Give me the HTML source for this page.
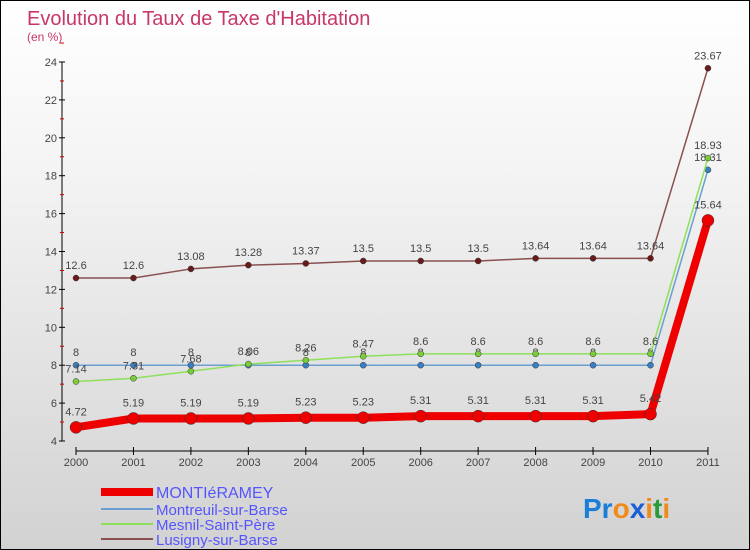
<!DOCTYPE html>
<html><head><meta charset="utf-8"><style>
body{margin:0;}
#wrap{position:relative;width:748px;height:548px;border:1px solid #000;background:linear-gradient(#fff 0%,#f4f4f4 30%,#d2d2d2 100%);font-family:"Liberation Sans",sans-serif;overflow:hidden}
svg text{font-family:"Liberation Sans",sans-serif}
</style></head><body>
<div id="wrap">
<svg id="chart" width="748" height="548">
<text x="26" y="24" font-size="20" fill="#c8366a">Evolution du Taux de Taxe d'Habitation</text>
<text x="26" y="40" font-size="12" fill="#c8366a">(en %)</text>
<g id="axes"></g><g id="series"></g>
<g>
<rect x="100" y="487" width="52" height="8" fill="#e00"/>
<text x="155" y="497" font-size="16" fill="#55f">MONTIéRAMEY</text>
<line x1="100" y1="508" x2="152" y2="508" stroke="#6a9fd0" stroke-width="2"/>
<text x="155" y="514" font-size="15" fill="#55f">Montreuil-sur-Barse</text>
<line x1="100" y1="523" x2="152" y2="523" stroke="#8ee05a" stroke-width="2"/>
<text x="155" y="529" font-size="15" fill="#55f">Mesnil-Saint-Père</text>
<line x1="100" y1="538" x2="152" y2="538" stroke="#8a5050" stroke-width="2"/>
<text x="155" y="544" font-size="15" fill="#55f">Lusigny-sur-Barse</text>
</g>
<text x="582" y="517" font-size="28" font-weight="bold"><tspan fill="#1a7fd8">Pr</tspan><tspan fill="#f08a1a">o</tspan><tspan fill="#1a5fd8">x</tspan><tspan fill="#f08a1a">i</tspan><tspan fill="#2a9a3a">t</tspan><tspan fill="#f08a1a">i</tspan></text>
</svg>
</div>
<script>
const years=["2000","2001","2002","2003","2004","2005","2006","2007","2008","2009","2010","2011"];
const yTicks=[4,6,8,10,12,14,16,18,20,22,24];
const montieramey=[4.72,5.19,5.19,5.19,5.23,5.23,5.31,5.31,5.31,5.31,5.42,15.64];
const montreuil=[8,8,8,8,8,8,8,8,8,8,8,18.31];
const mesnil=[7.14,7.31,7.68,8.06,8.26,8.47,8.6,8.6,8.6,8.6,8.6,18.93];
const lusigny=[12.6,12.6,13.08,13.28,13.37,13.5,13.5,13.5,13.64,13.64,13.64,23.67];
const NS="http://www.w3.org/2000/svg";
const xS=i=>75+i*57.45;
const yS=v=>440-(v-4)*18.95;
function mk(t,a,p){const e=document.createElementNS(NS,t);for(const k in a)e.setAttribute(k,a[k]);p.appendChild(e);return e;}
const ax=document.getElementById('axes');
const yAxis=mk('line',{x1:61,y1:61,x2:61,y2:440,stroke:'#000','stroke-width':1},ax);


const xAxis=mk('line',{x1:75,y1:450,x2:707,y2:450,stroke:'#000','stroke-width':1},ax);


yTicks.forEach(v=>{
  mk('line',{x1:58,y1:yS(v),x2:64,y2:yS(v),stroke:'#000'},ax);
  mk('line',{x1:59,y1:yS(v+1),x2:63,y2:yS(v+1),stroke:'#c00'},ax);
  const t=mk('text',{x:56,y:yS(v)+4,'font-size':11,fill:'#444','text-anchor':'end'},ax);t.textContent=v;
  
  
});
years.forEach((y,i)=>{
  mk('line',{x1:xS(i),y1:446,x2:xS(i),y2:454,stroke:'#000'},ax);
  const t=mk('text',{x:xS(i),y:465,'font-size':11,fill:'#444','text-anchor':'middle'},ax);t.textContent=y;
  
  
});
const sg=document.getElementById('series');
function draw(vals,color,w,r,name,dotColor){
  const g=mk('g',{},sg);
  
  
  mk('polyline',{points:vals.map((v,i)=>xS(i)+','+yS(v)).join(' '),fill:'none',stroke:color,'stroke-width':w,'stroke-linejoin':'round'},g);
  vals.forEach((v,i)=>{
    const c=mk('circle',{cx:xS(i),cy:yS(v),r:r,fill:dotColor,stroke:'#333','stroke-width':0.5},g);
    
    
    const t=mk('text',{x:xS(i),y:yS(v)-r-6,'font-size':11,fill:'#444','text-anchor':'middle'},g);t.textContent=v;
    
    
  });
}
draw(lusigny,'#8a5050',1.5,3,'series-lusigny','#6a1a1a');
draw(montreuil,'#6a9fd0',1.5,3,'series-montreuil','#3a80c0');
draw(mesnil,'#8ee05a',1.5,3,'series-mesnil','#7acc3a');
draw(montieramey,'#e00',8,6,'series-montieramey','#e00');
</script>
</body></html>
